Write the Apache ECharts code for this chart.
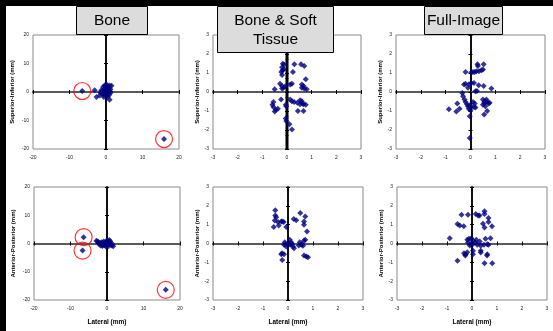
<!DOCTYPE html>
<html>
<head>
<meta charset="utf-8">
<script src="https://cdn.jsdelivr.net/npm/echarts@6/dist/echarts.min.js"></script>
<style>
html,body{margin:0;padding:0;background:#fff;}
#c{width:553px;height:331px;}
</style>
</head>
<body>
<div id="c"></div>
<script>
// ---------- data ----------
const titles = ['Bone', 'Bone & Soft\nTissue', 'Full-Image'];
const yNames = ['Superior-Inferior (mm)', 'Anterior-Posterior (mm)'];
const xName = 'Lateral (mm)';
const boneTicks = [-20, -10, 0, 10, 20];
const mmTicks = [-3, -2, -1, 0, 1, 2, 3];

// Bone, superior-inferior
const boneSI = [[-3.1,0.6],[-2.6,-1.75],[-1.7,-1.2],[-1.3,0.6],[-0.8,1.75],[-0.4,2.3],[0.1,2.7],[0.5,2.0],
  [1.0,2.3],[1.5,2.2],[0.1,-0.6],[0.5,-1.75],[1.0,-2.7],[-0.4,0],[-0.6,-1.75],[0.3,1.2],[-0.1,0.6],
  [0.2,0.2],[0.8,0.5],[-0.5,1.0],[0.6,-0.3],[1.2,1.0],[-1.0,-0.5],[0.3,-1.2],[-0.2,-0.9],[0.7,1.5],
  [-0.9,0.3],[1.3,-0.2],[0.0,1.8],[-0.3,-0.3],[0.9,-1.0],[-1.5,-0.3],[0.4,0.8],[-0.7,-1.0],[1.1,0.3],
  [-6.5,0.35],[15.9,-16.5]];
const boneSIOutliers = [[-6.5,0.35],[15.9,-16.5]];

// Bone & soft tissue, superior-inferior
const softSI = [[-0.17,1.49],[-0.12,1.45],[-0.2,1.3],[-0.18,1.15],[-0.23,1.05],[-0.2,0.9],[-0.13,1.2],
  [0.3,1.46],[0.57,1.46],[0.7,1.37],[0.24,1.05],[0.76,0.67],
  [-0.28,0.44],[-0.2,0.32],[-0.14,0.23],[-0.07,0.3],[-0.2,0.18],[0.13,0.4],[0.2,0.44],
  [0.6,0.4],[0.67,0.32],[0.6,0.23],[0.7,0.18],[0.8,0.14],[-0.5,0.14],
  [-0.24,-0.4],[-0.55,-0.53],[-0.59,-0.67],[-0.55,-0.79],[-0.45,-0.93],[-0.5,-1.02],[-0.37,-0.88],
  [-0.05,-0.67],[-0.03,-0.75],[0.13,-0.4],[0.2,-0.49],[0.29,-0.53],[0.42,-0.56],
  [0.53,-0.44],[0.6,-0.49],[0.53,-0.65],[0.63,-0.61],[0.67,-0.65],[0.76,-0.67],
  [0.44,-1.0],[0.67,-1.0],[-0.05,-1.4],[-0.03,-1.53],[0.1,-1.7],[0.2,-1.98]];

// Full image, superior-inferior
const fullSI = [[0.28,1.46],[0.3,1.37],[0.53,1.46],[0.24,1.09],[0.17,1.05],[0.34,1.09],[0.5,1.18],[0.44,1.14],
  [-0.2,1.05],[0.03,1.02],[0.1,1.05],
  [-0.26,0.4],[-0.2,0.44],[-0.07,0.4],[0.03,0.47],[0.14,0.47],[-0.1,0.23],[0.33,0.35],[0.53,0.32],[0.84,0.18],
  [-0.33,-0.05],[-0.3,-0.23],[-0.24,-0.4],[-0.2,-0.53],[0.2,0.04],[0.26,0.05],
  [-0.14,-0.65],[-0.1,-0.75],[-0.03,-0.7],[0.03,-0.79],[-0.07,-0.88],[0,-0.96],[-0.03,-1.28],
  [0.1,-0.53],[0.17,-0.61],[0.14,-0.79],[0.2,-0.82],
  [0.5,-0.4],[0.57,-0.49],[0.64,-0.4],[0.55,-0.58],[0.67,-0.53],[0.73,-0.61],[0.6,-0.75],[0.5,-0.67],[0.77,-0.56],
  [0.67,-1.0],[0.55,-1.18],[-0.53,-0.61],[-0.57,-1.02],[-0.44,-0.88],[-0.87,-0.91],[-0.03,-2.42]];

// Bone, anterior-posterior
const boneAP = [[-2.9,0.95],[-2.4,0.5],[-2.0,0.1],[-1.5,-0.25],[-1.1,-0.5],[-0.6,0],[-0.1,0.5],[0.3,0.7],
  [0.6,1.2],[0.8,0],[1.3,-0.7],[1.7,-0.95],[-0.3,-1.05],[-0.9,0.7],[-2.3,0],[-1.8,-0.7],[0.05,-0.5],
  [0.4,-0.95],[-1.2,0.25],[-2.6,0.7],[-0.4,0.3],[0.2,-0.2],[1.0,-0.4],[-1.6,0.4],[0.6,0.5],[-0.7,-0.6],
  [1.5,-0.3],[-0.2,0.9],[0.9,0.8],[-1.3,-0.9],
  [-6.4,2.25],[-6.7,-2.5],[16.1,-16.4]];
const boneAPOutliers = [[-6.4,2.25],[-6.7,-2.5],[16.1,-16.4]];

// Bone & soft tissue, anterior-posterior
const softAP = [[-0.51,1.76],[-0.51,1.49],[-0.47,1.4],[-0.53,1.22],[-0.57,0.87],[-0.37,0.96],[-0.4,1.14],
  [-0.27,1.17],[-0.17,1.14],[-0.23,1.17],[-0.07,0.87],
  [0.49,1.62],[0.69,1.44],[0.64,1.17],[0.64,1.0],[0.23,1.3],[0.33,1.23],[0.76,0.64],
  [-0.13,0.07],[-0.09,-0.04],[-0.16,-0.07],[-0.07,-0.16],[0.07,0.2],[0.13,0.07],[0.11,-0.07],[0.2,-0.16],
  [0.24,-0.25],[0.03,-0.07],[0.16,-0.02],
  [0.47,0.07],[0.53,-0.07],[0.56,-0.04],[0.64,0.14],[0.69,0.2],[0.43,-0.11],[0.6,-0.12],
  [-0.24,-0.52],[-0.27,-0.57],[-0.16,-0.57],[-0.23,-0.87],
  [0.64,-0.64],[0.73,-0.69],[0.8,-0.73]];

// Full image, anterior-posterior
const fullAP = [[-0.42,1.53],[-0.16,1.53],[-0.58,1.03],[-0.49,0.96],[-0.33,0.91],
  [0.15,1.56],[0.24,1.49],[0.3,1.49],
  [0.5,1.71],[0.5,1.56],[0.66,1.35],[0.66,1.14],[0.8,0.91],[0.44,1.05],[0.5,0.85],
  [-0.89,0.28],
  [-0.19,0.2],[-0.12,0.25],[-0.03,0.28],[0.04,0.14],[-0.16,0.05],[-0.05,-0.02],[-0.09,-0.11],[0.01,-0.07],
  [0.17,0.2],[0.13,0.05],[0.21,-0.07],[0.35,-0.12],[0.31,0.11],
  [0.54,0.25],[0.61,-0.04],[0.74,0.28],[0.66,-0.07],[0.48,-0.07],
  [-0.32,-0.52],[-0.25,-0.57],[-0.19,-0.46],[-0.27,-0.64],[0.04,-0.39],[0.04,-0.57],[0.35,-0.39],[0.35,-0.48],
  [0.61,-0.57],[0.6,-0.64],
  [-0.58,-0.92],[0.5,-1.05],[0.81,-1.05]];

// ---------- layout ----------
const panels = [
  {data: boneSI,  outliers: boneSIOutliers, ticks: boneTicks, row: 0, minorY: false, grid: {left: 33, top: 35, width: 146, height: 114}, yGap: 18},
  {data: softSI,  outliers: [], ticks: mmTicks, row: 0, minorY: true, grid: {left: 213, top: 35, width: 148, height: 114}, yGap: 13},
  {data: fullSI,  outliers: [], ticks: mmTicks, row: 0, minorY: false, grid: {left: 396, top: 35, width: 149, height: 114}, yGap: 13},
  {data: boneAP,  outliers: boneAPOutliers, ticks: boneTicks, row: 1, minorY: false, grid: {left: 34, top: 187, width: 146, height: 113}, yGap: 18},
  {data: softAP,  outliers: [], ticks: mmTicks, row: 1, minorY: false, grid: {left: 213, top: 187, width: 150, height: 113}, yGap: 13},
  {data: fullAP,  outliers: [], ticks: mmTicks, row: 1, minorY: false, grid: {left: 397, top: 187, width: 150, height: 113}, yGap: 13}
];

const grids = [], xAxes = [], yAxes = [], series = [];
const labelStyle = {fontSize: 5, color: '#222', fontFamily: 'Liberation Sans, Arial'};
const nameStyle = {fontSize: 6, fontWeight: 'bold', color: '#000', fontFamily: 'Liberation Sans, Arial'};

panels.forEach((p, i) => {
  const lo = p.ticks[0], hi = p.ticks[p.ticks.length - 1], step = p.ticks[1] - p.ticks[0];
  grids.push(Object.assign({show: true, borderColor: '#8a8a8a', borderWidth: 1, backgroundColor: '#fff'}, p.grid));
  const base = {type: 'value', gridIndex: i, min: lo, max: hi, interval: step, splitLine: {show: false}};
  const xi = 3 * i, yi = 3 * i;
  // label axes
  xAxes.push(Object.assign({}, base, {
    position: 'bottom',
    axisLine: {show: false, onZero: false}, axisTick: {show: false},
    axisLabel: Object.assign({margin: 6}, labelStyle),
    name: p.row === 1 ? xName : '', nameLocation: 'middle', nameGap: 19, nameTextStyle: Object.assign({}, nameStyle, {fontSize: 6.5})
  }));
  yAxes.push(Object.assign({}, base, {
    position: 'left',
    axisLine: {show: false, onZero: false}, axisTick: {show: false},
    axisLabel: Object.assign({margin: 4}, labelStyle),
    name: yNames[p.row], nameLocation: 'middle', nameGap: p.yGap, nameTextStyle: nameStyle
  }));
  // zero axes with crossing ticks
  [true, false].forEach(inside => {
    xAxes.push(Object.assign({}, base, {
      position: 'bottom',
      axisLine: {show: true, onZero: true, onZeroAxisIndex: yi, lineStyle: {color: '#5a5a5a', width: 2}},
      axisTick: {show: true, inside: inside, length: 2, lineStyle: {color: '#000', width: 1}},
      axisLabel: {show: false}
    }));
    yAxes.push(Object.assign({}, base, {
      position: 'left',
      axisLine: {show: true, onZero: true, onZeroAxisIndex: xi, lineStyle: {color: '#000', width: 1.5}},
      axisTick: {show: true, inside: inside, length: 2, lineStyle: {color: '#000', width: 1}},
      minorTick: {show: p.minorY, splitNumber: 20, length: 1.5, lineStyle: {color: '#000', width: 1}},
      axisLabel: {show: false}
    }));
  });
  series.push({
    type: 'scatter', xAxisIndex: xi, yAxisIndex: yi, data: p.data,
    symbol: 'diamond', symbolSize: 6, itemStyle: {color: '#000080'}, z: 3, silent: true
  });
  if (p.outliers.length) {
    series.push({
      type: 'scatter', xAxisIndex: xi, yAxisIndex: yi, data: p.outliers,
      symbol: 'circle', symbolSize: 17, z: 4, silent: true,
      itemStyle: {color: 'rgba(0,0,0,0)', borderColor: '#ff0000', borderWidth: 1.2}
    });
  }
});

const titleFont = '15.5px "Liberation Sans", Arial, sans-serif';
const graphic = [
  {type: 'rect', shape: {x: 0, y: 0, width: 553, height: 6}, style: {fill: '#000'}, z: 50},
  {type: 'rect', shape: {x: 0, y: 0, width: 6, height: 331}, style: {fill: '#000'}, z: 50},
  {type: 'rect', shape: {x: 76.5, y: 6.5, width: 71, height: 28}, style: {fill: '#dcdcdc', stroke: '#000', lineWidth: 1}, z: 100},
  {type: 'text', x: 112, y: 21, style: {text: titles[0], font: titleFont, fill: '#000', align: 'center', verticalAlign: 'middle'}, z: 101},
  {type: 'rect', shape: {x: 217.5, y: 6.5, width: 116, height: 46}, style: {fill: '#dcdcdc', stroke: '#000', lineWidth: 1}, z: 100},
  {type: 'text', x: 275.5, y: 30, style: {text: titles[1], font: titleFont, lineHeight: 19.5, fill: '#000', align: 'center', verticalAlign: 'middle'}, z: 101},
  {type: 'rect', shape: {x: 424.5, y: 6.5, width: 78, height: 28}, style: {fill: '#dcdcdc', stroke: '#000', lineWidth: 1}, z: 100},
  {type: 'text', x: 463.5, y: 21, style: {text: titles[2], font: titleFont, fill: '#000', align: 'center', verticalAlign: 'middle'}, z: 101}
];

const chart = echarts.init(document.getElementById('c'), null, {renderer: 'canvas'});
chart.setOption({
  animation: false,
  backgroundColor: '#fff',
  grid: grids, xAxis: xAxes, yAxis: yAxes, series: series, graphic: graphic
});
</script>
</body>
</html>
